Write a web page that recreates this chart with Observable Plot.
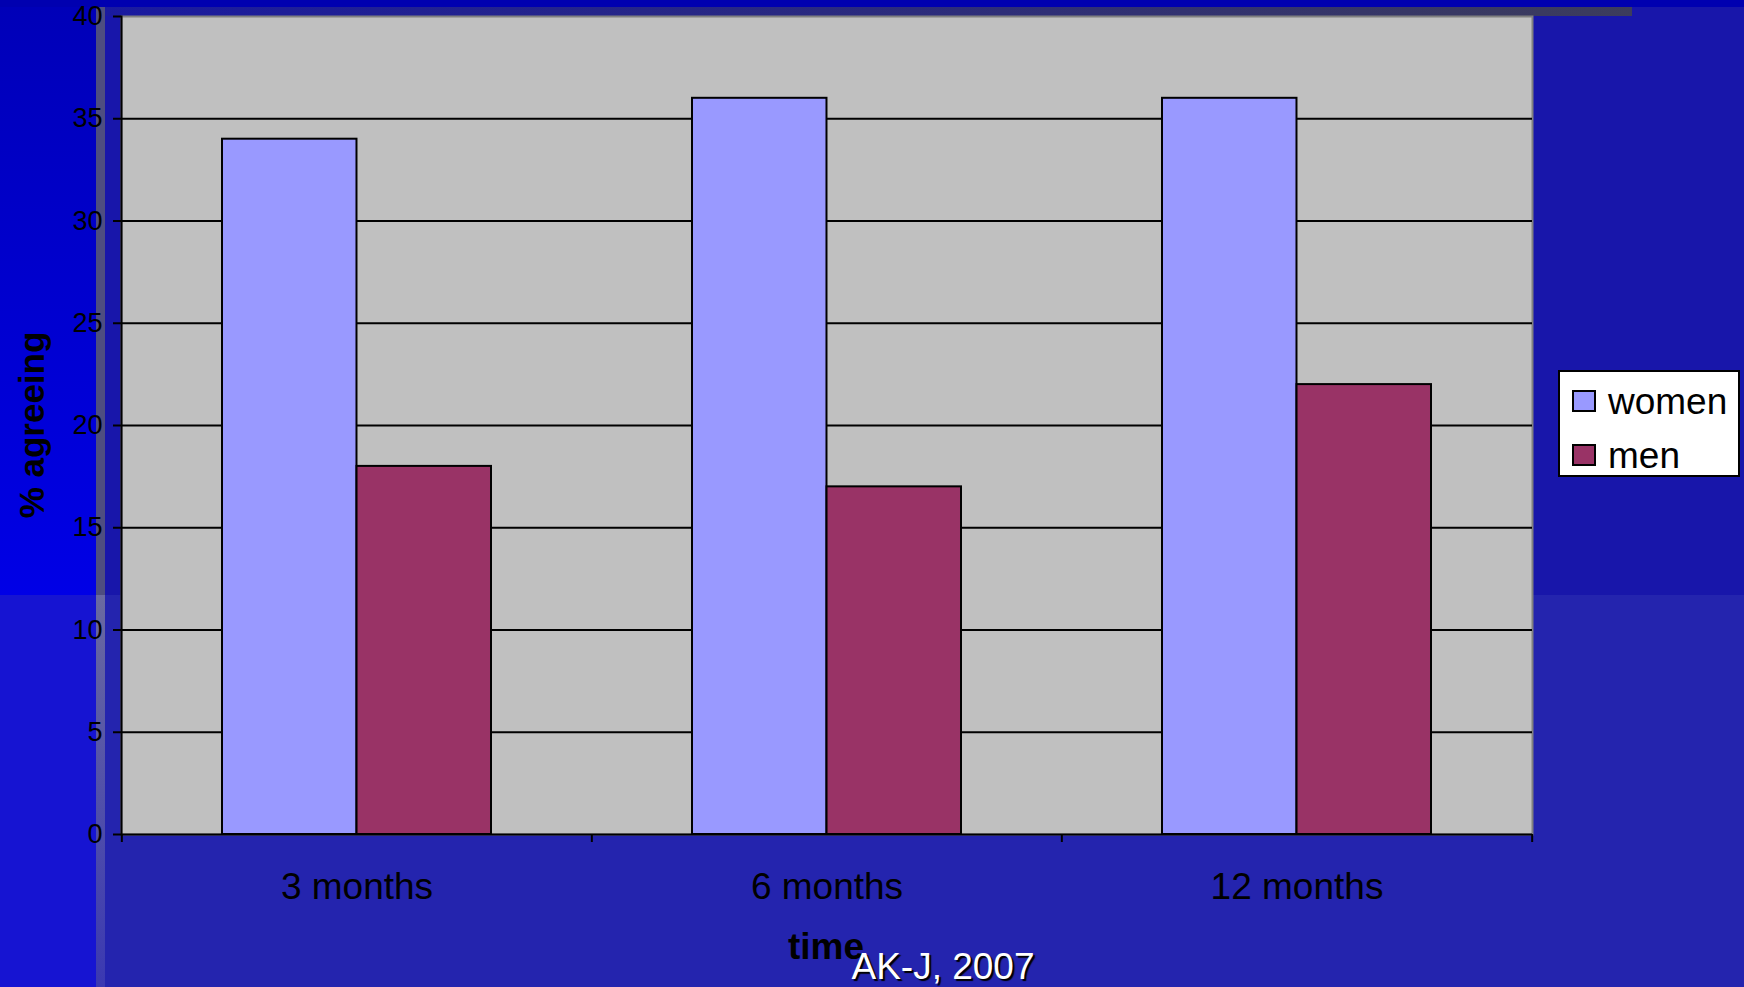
<!DOCTYPE html>
<html>
<head>
<meta charset="utf-8">
<script src="https://cdn.jsdelivr.net/npm/d3@7"></script>
<script src="https://cdn.jsdelivr.net/npm/@observablehq/plot@0.6"></script>
<style>
  html, body { margin: 0; padding: 0; overflow: hidden; background: #1a1aa6; }
  #stage { position: relative; width: 1744px; height: 987px; overflow: hidden;
           font-family: "Liberation Sans", Arial, sans-serif; }
  .bg { position: absolute; }
  #chart { position: absolute; left: 0; top: 0; }
  .title { position: absolute; white-space: nowrap; line-height: 1; color: #000; }
  #legend { position: absolute; left: 1558px; top: 370px; width: 178px; height: 103px;
            background: #fff; border: 2px solid #000; }
  .sw { position: absolute; left: 12px; width: 20px; height: 18px; border: 2px solid #000; }
  .lt { position: absolute; left: 48px; font-size: 37px; line-height: 1; white-space: nowrap; }
</style>
</head>
<body>
<div id="stage">
  <!-- slide background panels -->
  <div class="bg" style="left:0;top:0;width:1744px;height:595px;background:#1816aa"></div>
  <div class="bg" style="left:0;top:595px;width:1744px;height:392px;background:#2424ae"></div>
  <div class="bg" style="left:0;top:0;width:1744px;height:7px;background:#0000b0"></div>
  <div class="bg" style="left:105px;top:7px;width:1527px;height:9px;background:linear-gradient(to right,#1a1aa0,#3c3c5c)"></div>
  <div class="bg" style="left:0;top:7px;width:96px;height:588px;background:linear-gradient(to bottom,#0000b8,#0000e6)"></div>
  <div class="bg" style="left:0;top:595px;width:96px;height:392px;background:#1614d2"></div>
  <div class="bg" style="left:96px;top:7px;width:9px;height:588px;background:#4e4e80"></div>
  <div class="bg" style="left:96px;top:595px;width:9px;height:392px;background:linear-gradient(to bottom,#6a6aa0,#3a38b2)"></div>

  <div id="chart"></div>

  <div class="title" id="ylabel" style="left:31px;top:425px;font-size:35px;font-weight:bold;transform:translate(-50%,-50%) rotate(-90deg)">% agreeing</div>
  <div class="title" id="xlabel" style="left:826px;top:928px;font-size:37px;font-weight:bold;transform:translateX(-50%)">time</div>
  <div class="title" id="credit" style="left:943px;top:948px;font-size:37px;color:#fff;text-shadow:2px 2px 1px #000;transform:translateX(-50%)">AK-J, 2007</div>

  <div id="legend"></div>
</div>

<script>
// Survey share agreeing, by follow-up time and sex
const times = ["3 months", "6 months", "12 months"];
const womenValues = [34, 36, 36];
const menValues = [18, 17, 22];
const seriesNames = ["women", "men"];
const seriesColors = ["#9999ff", "#993366"];
const yTicks = [0, 5, 10, 15, 20, 25, 30, 35, 40];

const width = 1744, height = 987;
const margin = {top: 16, right: 212, bottom: 153, left: 121};
const paddingInner = 0.428, paddingOuter = 0.214;
const step = (width - margin.left - margin.right) / times.length;
const halfBand = step * (1 - paddingInner) / 2;

const womenRows = times.map((t, i) => ({time: t, value: womenValues[i]}));
const menRows = times.map((t, i) => ({time: t, value: menValues[i]}));

const chart = Plot.plot({
  width, height,
  marginTop: margin.top, marginRight: margin.right,
  marginBottom: margin.bottom, marginLeft: margin.left,
  style: {background: "transparent", fontFamily: "Liberation Sans, Arial, sans-serif", color: "#000", overflow: "visible"},
  x: {domain: times, paddingInner, paddingOuter, label: null},
  y: {domain: [0, 40], label: null},
  marks: [
    Plot.frame({fill: "#c0c0c0", stroke: "#808080", strokeWidth: 2}),
    Plot.gridY(yTicks.filter(d => d > 0 && d < 40), {stroke: "#000", strokeOpacity: 1, strokeWidth: 2}),
    Plot.barY(womenRows, {x: "time", y: "value", fill: seriesColors[0], stroke: "#000", strokeWidth: 2, insetRight: halfBand}),
    Plot.barY(menRows, {x: "time", y: "value", fill: seriesColors[1], stroke: "#000", strokeWidth: 2, insetLeft: halfBand}),
    Plot.frame({anchor: "left", stroke: "#000", strokeWidth: 2}),
    Plot.ruleY([0], {stroke: "#000", strokeWidth: 2}),
    Plot.axisY(yTicks, {tickSize: 8, tickPadding: 11, fontSize: 27, stroke: "#000", strokeWidth: 2, label: null}),
    // category boundary ticks
    Plot.axisX(times, {tickSize: 8, tickFormat: () => "", dx: -step / 2, stroke: "#000", strokeWidth: 2, label: null}),
    Plot.axisX([times[times.length - 1]], {tickSize: 8, tickFormat: () => "", dx: step / 2, stroke: "#000", strokeWidth: 2, label: null}),
    // category labels
    Plot.axisX(times, {tickSize: 0, tickPadding: 38, fontSize: 37, label: null})
  ]
});
document.getElementById("chart").appendChild(chart);

// legend
const legend = d3.select("#legend");
seriesNames.forEach((name, i) => {
  legend.append("div").attr("class", "sw")
    .style("top", `${18 + i * 54}px`).style("background", seriesColors[i]);
  legend.append("div").attr("class", "lt")
    .style("top", `${11 + i * 54}px`).text(name);
});
</script>
</body>
</html>
